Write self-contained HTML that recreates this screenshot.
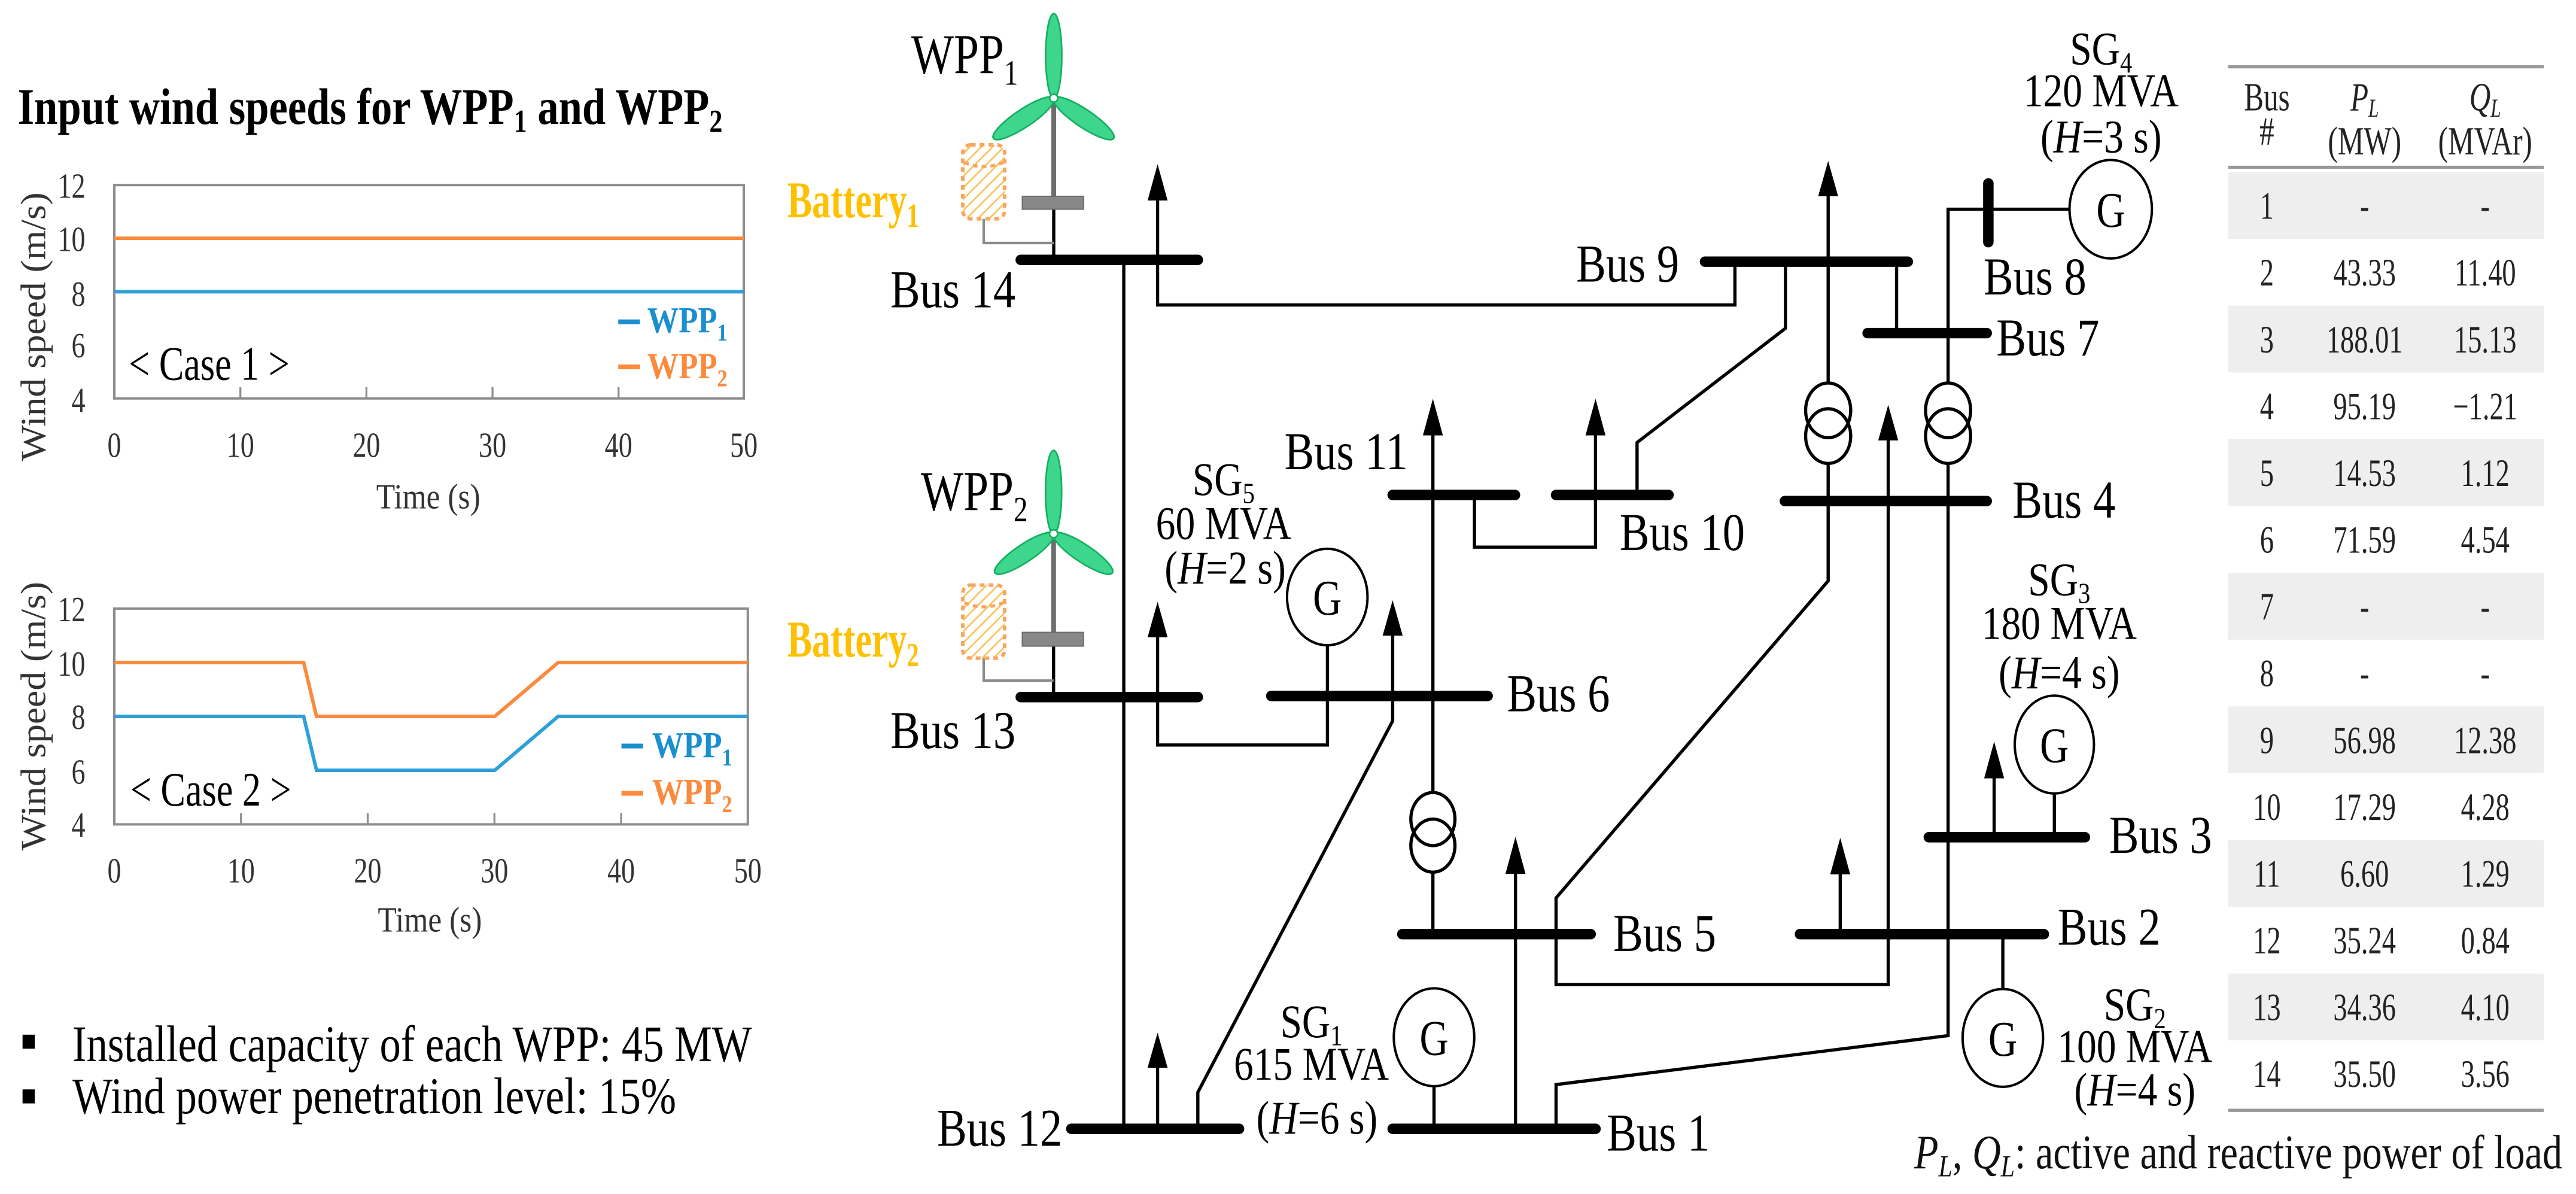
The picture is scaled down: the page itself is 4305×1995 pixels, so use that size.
<!DOCTYPE html>
<html><head><meta charset="utf-8"><style>
html,body{margin:0;padding:0;background:#fff;}
svg{display:block;}
text{font-family:"Liberation Serif",serif;}
</style></head><body>
<svg width="4305" height="1995" viewBox="0 0 1600 742" preserveAspectRatio="none" xmlns="http://www.w3.org/2000/svg">
<defs>
<pattern id="hatch" width="5" height="5" patternUnits="userSpaceOnUse" patternTransform="rotate(45)">
<rect width="5" height="5" fill="#fff"/><line x1="0" y1="0" x2="0" y2="5" stroke="#f9c25a" stroke-width="2"/>
</pattern>
</defs>
<rect width="1600" height="742" fill="#fff"/>

<!-- LEFT PANEL -->
<text transform="translate(11,77) scale(0.82,1)" font-size="32" font-weight="bold">Input wind speeds for WPP<tspan font-size="20" dy="5">1</tspan><tspan dy="-5"> and WPP</tspan><tspan font-size="20" dy="5">2</tspan></text>

<!-- chart 1 -->
<rect x="71" y="115" width="391" height="132.6" fill="none" stroke="#8c8c8c" stroke-width="1.5"/>
<g stroke="#8c8c8c" stroke-width="1.2">
<line x1="149.3" y1="240.6" x2="149.3" y2="247.6"/><line x1="227.6" y1="240.6" x2="227.6" y2="247.6"/>
<line x1="305.9" y1="240.6" x2="305.9" y2="247.6"/><line x1="384.2" y1="240.6" x2="384.2" y2="247.6"/>
</g>
<g font-size="22" fill="#333" text-anchor="end">
<text transform="translate(53,123) scale(0.78,1)">12</text>
<text transform="translate(53,156) scale(0.78,1)">10</text>
<text transform="translate(53,190) scale(0.78,1)">8</text>
<text transform="translate(53,222) scale(0.78,1)">6</text>
<text transform="translate(53,256) scale(0.78,1)">4</text>
</g>
<g font-size="22" fill="#333" text-anchor="middle">
<text transform="translate(71,284) scale(0.78,1)">0</text>
<text transform="translate(149.3,284) scale(0.78,1)">10</text>
<text transform="translate(227.6,284) scale(0.78,1)">20</text>
<text transform="translate(305.9,284) scale(0.78,1)">30</text>
<text transform="translate(384.2,284) scale(0.78,1)">40</text>
<text transform="translate(462,284) scale(0.78,1)">50</text>
<text transform="translate(266,316) scale(0.87,1)">Time (s)</text>
</g>
<text transform="translate(28,203) rotate(-90)" font-size="22" fill="#333" text-anchor="middle" textLength="167" lengthAdjust="spacingAndGlyphs">Wind speed (m/s)</text>
<line x1="71" y1="148.1" x2="462" y2="148.1" stroke="#fb8a3c" stroke-width="2.2"/>
<line x1="71" y1="181.3" x2="462" y2="181.3" stroke="#2f9fd8" stroke-width="2.2"/>
<text transform="translate(80,236) scale(0.77,1)" font-size="30">&lt; Case 1 &gt;</text>
<line x1="384" y1="200" x2="397.5" y2="200" stroke="#1a8fd0" stroke-width="3"/>
<text transform="translate(402,206.6) scale(0.85,1)" font-size="23" font-weight="bold" fill="#1a8fd0">WPP<tspan font-size="15" dy="5">1</tspan></text>
<line x1="384" y1="228" x2="397.5" y2="228" stroke="#fb8a3c" stroke-width="3"/>
<text transform="translate(402,235) scale(0.85,1)" font-size="23" font-weight="bold" fill="#fb8a3c">WPP<tspan font-size="15" dy="5">2</tspan></text>

<!-- chart 2 -->
<rect x="71" y="378.2" width="393.5" height="134.1" fill="none" stroke="#8c8c8c" stroke-width="1.5"/>
<g stroke="#8c8c8c" stroke-width="1.2">
<line x1="149.7" y1="505.3" x2="149.7" y2="512.3"/><line x1="228.4" y1="505.3" x2="228.4" y2="512.3"/>
<line x1="307.1" y1="505.3" x2="307.1" y2="512.3"/><line x1="385.8" y1="505.3" x2="385.8" y2="512.3"/>
</g>
<g font-size="22" fill="#333" text-anchor="end">
<text transform="translate(53,386) scale(0.78,1)">12</text>
<text transform="translate(53,420) scale(0.78,1)">10</text>
<text transform="translate(53,453) scale(0.78,1)">8</text>
<text transform="translate(53,487) scale(0.78,1)">6</text>
<text transform="translate(53,520) scale(0.78,1)">4</text>
</g>
<g font-size="22" fill="#333" text-anchor="middle">
<text transform="translate(71,548.4) scale(0.78,1)">0</text>
<text transform="translate(149.7,548.4) scale(0.78,1)">10</text>
<text transform="translate(228.4,548.4) scale(0.78,1)">20</text>
<text transform="translate(307.1,548.4) scale(0.78,1)">30</text>
<text transform="translate(385.8,548.4) scale(0.78,1)">40</text>
<text transform="translate(464.5,548.4) scale(0.78,1)">50</text>
<text transform="translate(267,579) scale(0.87,1)">Time (s)</text>
</g>
<text transform="translate(28,445) rotate(-90)" font-size="22" fill="#333" text-anchor="middle" textLength="167" lengthAdjust="spacingAndGlyphs">Wind speed (m/s)</text>
<polyline points="71,411.7 188.6,411.7 196.6,445.2 307.3,445.2 346.7,411.7 464.5,411.7" fill="none" stroke="#fb8a3c" stroke-width="2.2"/>
<polyline points="71,445.2 188.6,445.2 196.6,478.7 307.3,478.7 346.7,445.2 464.5,445.2" fill="none" stroke="#2f9fd8" stroke-width="2.2"/>
<text transform="translate(81,500.6) scale(0.77,1)" font-size="30">&lt; Case 2 &gt;</text>
<line x1="386" y1="463.6" x2="399.5" y2="463.6" stroke="#1a8fd0" stroke-width="3"/>
<text transform="translate(405,470.7) scale(0.85,1)" font-size="23" font-weight="bold" fill="#1a8fd0">WPP<tspan font-size="15" dy="5">1</tspan></text>
<line x1="386" y1="493" x2="399.5" y2="493" stroke="#fb8a3c" stroke-width="3"/>
<text transform="translate(405,499.7) scale(0.85,1)" font-size="23" font-weight="bold" fill="#fb8a3c">WPP<tspan font-size="15" dy="5">2</tspan></text>

<!-- bullets -->
<rect x="14" y="643" width="7.6" height="8.7" fill="#000"/>
<rect x="14" y="677" width="7.6" height="8.7" fill="#000"/>
<text x="45" y="659.4" font-size="32" textLength="422" lengthAdjust="spacingAndGlyphs">Installed capacity of each WPP: 45 MW</text>
<text x="45" y="691.8" font-size="32" textLength="375" lengthAdjust="spacingAndGlyphs">Wind power penetration level: 15%</text>

<!-- DIAGRAM lines -->
<g stroke="#000" stroke-width="2" fill="none">
<line x1="698" y1="161.5" x2="698" y2="701.5"/>
<polyline points="719,124 719,189.5 1077.6,189.5 1077.6,162.6"/>
<polyline points="1109,162.6 1109,204 1016.8,275 1016.8,307.6"/>
<line x1="1135.5" y1="122" x2="1135.5" y2="238"/>
<polyline points="1135.5,288 1135.5,361 966.5,558 966.5,611.8 1172.8,611.8 1172.8,272"/>
<line x1="1178" y1="162.6" x2="1178" y2="207"/>
<polyline points="1285,130 1210,130 1210,238"/>
<polyline points="1210,288 1210,643.6 966.5,674 966.5,701.5"/>
<line x1="1276" y1="493" x2="1276" y2="520"/>
<line x1="1238.6" y1="483" x2="1238.6" y2="520"/>
<line x1="1143" y1="543" x2="1143" y2="580.5"/>
<line x1="1244" y1="580.5" x2="1244" y2="614.6"/>
<line x1="890" y1="270" x2="890" y2="492.6"/>
<line x1="890" y1="542" x2="890" y2="580.5"/>
<polyline points="915.8,307.6 915.8,340 991,340 991,270"/>
<polyline points="719,395.5 719,463 824.5,463 824.5,401"/>
<polyline points="865,395 865,448 744,678.8 744,701.5"/>
<line x1="941.3" y1="543" x2="941.3" y2="701.5"/>
<line x1="890.7" y1="675" x2="890.7" y2="701.5"/>
<line x1="719" y1="663" x2="719" y2="701.5"/>
<!-- transformers -->
<ellipse cx="890" cy="509" rx="13.7" ry="16.5"/><ellipse cx="890" cy="525.5" rx="13.7" ry="16.5"/>
<ellipse cx="1135.5" cy="255" rx="14" ry="17"/><ellipse cx="1135.5" cy="271" rx="14" ry="17"/>
<ellipse cx="1210" cy="255" rx="14" ry="17"/><ellipse cx="1210" cy="271" rx="14" ry="17"/>
</g>
<!-- generators -->
<g stroke="#000" stroke-width="1.5" fill="#fff">
<ellipse cx="824.4" cy="371" rx="25" ry="30"/>
<ellipse cx="890.7" cy="644.6" rx="25" ry="30.4"/>
<ellipse cx="1311" cy="130" rx="25.6" ry="30.6"/>
<ellipse cx="1276" cy="462.7" rx="24.6" ry="30.4"/>
<ellipse cx="1244" cy="645" rx="25" ry="30.4"/>
</g>
<g font-size="31" text-anchor="middle" fill="#000">
<text transform="translate(824.4,382) scale(0.8,1)">G</text>
<text transform="translate(890.7,655.6) scale(0.8,1)">G</text>
<text transform="translate(1311,141) scale(0.8,1)">G</text>
<text transform="translate(1276,473.7) scale(0.8,1)">G</text>
<text transform="translate(1244,656) scale(0.8,1)">G</text>
</g>
<!-- arrowheads -->
<g fill="#000">
<polygon points="719,102 712.8,124.6 725.2,124.6"/>
<polygon points="719,374 712.8,396 725.2,396"/>
<polygon points="865,373 858.8,395 871.2,395"/>
<polygon points="890,247.8 883.8,270.6 896.2,270.6"/>
<polygon points="991,247.8 984.8,270.6 997.2,270.6"/>
<polygon points="1135.5,100 1129.3,122 1141.7,122"/>
<polygon points="1172.8,251.6 1166.6,273.7 1179,273.7"/>
<polygon points="941.3,520 935.1,543 947.5,543"/>
<polygon points="719,641.8 712.8,663.5 725.2,663.5"/>
<polygon points="1238.6,460.8 1232.4,483.7 1244.8,483.7"/>
<polygon points="1143,520.7 1136.8,543.4 1149.2,543.4"/>
</g>
<!-- buses -->
<g stroke="#000" stroke-width="6.5" stroke-linecap="round">
<line x1="634" y1="161.5" x2="744" y2="161.5"/>
<line x1="634" y1="433.2" x2="744" y2="433.2"/>
<line x1="789.6" y1="432.5" x2="924" y2="432.5"/>
<line x1="865" y1="307.6" x2="941" y2="307.6"/>
<line x1="966.5" y1="307.6" x2="1036.4" y2="307.6"/>
<line x1="1059" y1="162.6" x2="1185" y2="162.6"/>
<line x1="1160" y1="207" x2="1234" y2="207"/>
<line x1="1235" y1="114" x2="1235" y2="150.5"/>
<line x1="1108.6" y1="311.4" x2="1234" y2="311.4"/>
<line x1="1198" y1="520.3" x2="1295" y2="520.3"/>
<line x1="1118" y1="580.5" x2="1269.5" y2="580.5"/>
<line x1="871" y1="580.5" x2="988" y2="580.5"/>
<line x1="665.4" y1="701.5" x2="769.6" y2="701.5"/>
<line x1="865" y1="701.5" x2="991" y2="701.5"/>
</g>
<!-- turbines -->
<g stroke="#6e6e6e" fill="none" stroke-width="3">
<line x1="654.5" y1="61" x2="654.5" y2="126"/>
<line x1="654.4" y1="331.7" x2="654.4" y2="397"/>
</g>
<g stroke="#000" stroke-width="2">
<line x1="654.5" y1="126" x2="654.5" y2="161.5"/>
<line x1="654.4" y1="397" x2="654.4" y2="433.2"/>
</g>
<g stroke="#8a8a8a" fill="none" stroke-width="1.6">
<polyline points="611,136 611,151 654.5,151"/>
<polyline points="611,409 611,423 654.4,423"/>
</g>
<rect x="635" y="122" width="38" height="8" fill="#888" stroke="#6e6e6e" stroke-width="0.8"/>
<rect x="635" y="393" width="38" height="8.5" fill="#888" stroke="#6e6e6e" stroke-width="0.8"/>
<rect x="598" y="90" width="26" height="46" rx="5" fill="url(#hatch)" stroke="#f9a65e" stroke-width="2.2" stroke-dasharray="3,2.5"/>
<path d="M599 101 Q611 106 623 101" fill="none" stroke="#f9a65e" stroke-width="2" stroke-dasharray="3,2.5"/>
<rect x="598" y="363.6" width="26" height="45.4" rx="5" fill="url(#hatch)" stroke="#f9a65e" stroke-width="2.2" stroke-dasharray="3,2.5"/>
<path d="M599 374.6 Q611 379.6 623 374.6" fill="none" stroke="#f9a65e" stroke-width="2" stroke-dasharray="3,2.5"/>
<g fill="#3dd68c" stroke="#12b060" stroke-width="1">
<ellipse cx="0" cy="0" rx="26.3" ry="5" transform="translate(654.5,34.75) rotate(-90)"/>
<ellipse cx="0" cy="0" rx="22.5" ry="5.5" transform="translate(635.75,73.5) rotate(146.3)"/>
<ellipse cx="0" cy="0" rx="22.4" ry="5.5" transform="translate(673.1,73.5) rotate(33.9)"/>
<ellipse cx="0" cy="0" rx="25.9" ry="5" transform="translate(654.4,305.8) rotate(-90)"/>
<ellipse cx="0" cy="0" rx="21.9" ry="5.5" transform="translate(636.2,343.85) rotate(146.3)"/>
<ellipse cx="0" cy="0" rx="21.9" ry="5.5" transform="translate(672.7,343.85) rotate(33.7)"/>
</g>
<circle cx="654.5" cy="61" r="2.5" fill="#fff" stroke="#12b060"/>
<circle cx="654.4" cy="331.7" r="2.5" fill="#fff" stroke="#12b060"/>
<text transform="translate(566,45.6) scale(0.8,1)" font-size="35">WPP<tspan font-size="22" dy="7">1</tspan></text>
<text transform="translate(572,317) scale(0.8,1)" font-size="35">WPP<tspan font-size="22" dy="7">2</tspan></text>
<text transform="translate(489,135) scale(0.72,1)" font-size="32" font-weight="bold" fill="#ffc000">Battery<tspan font-size="21" dy="6">1</tspan></text>
<text transform="translate(489,408) scale(0.72,1)" font-size="32" font-weight="bold" fill="#ffc000">Battery<tspan font-size="21" dy="6">2</tspan></text>

<!-- bus labels -->
<g font-size="33" fill="#000">
<text transform="translate(553,191) scale(0.84,1)">Bus 14</text>
<text transform="translate(553,465) scale(0.84,1)">Bus 13</text>
<text transform="translate(582,712) scale(0.84,1)">Bus 12</text>
<text transform="translate(998,715) scale(0.84,1)">Bus 1</text>
<text transform="translate(1002,591) scale(0.84,1)">Bus 5</text>
<text transform="translate(936,442) scale(0.84,1)">Bus 6</text>
<text transform="translate(874.5,291.5) scale(0.84,1)" text-anchor="end">Bus 11</text>
<text transform="translate(1006,341.8) scale(0.84,1)">Bus 10</text>
<text transform="translate(979,175) scale(0.84,1)">Bus 9</text>
<text transform="translate(1240,221) scale(0.84,1)">Bus 7</text>
<text transform="translate(1232,183) scale(0.84,1)">Bus 8</text>
<text transform="translate(1250,321.8) scale(0.84,1)">Bus 4</text>
<text transform="translate(1310,530) scale(0.84,1)">Bus 3</text>
<text transform="translate(1278,587) scale(0.84,1)">Bus 2</text>
</g>
<!-- SG labels -->
<g font-size="29" text-anchor="middle" fill="#000">
<text transform="translate(760,307.6) scale(0.84,1)">SG<tspan font-size="18" dy="5">5</tspan></text>
<text transform="translate(760,335) scale(0.84,1)">60 MVA</text>
<text transform="translate(761,362.6) scale(0.84,1)">(<tspan font-style="italic">H</tspan>=2 s)</text>
<text transform="translate(814.5,644.6) scale(0.84,1)">SG<tspan font-size="18" dy="5">1</tspan></text>
<text transform="translate(814.5,671) scale(0.84,1)">615 MVA</text>
<text transform="translate(818,704.5) scale(0.84,1)">(<tspan font-style="italic">H</tspan>=6 s)</text>
<text transform="translate(1305,40) scale(0.84,1)">SG<tspan font-size="18" dy="5">4</tspan></text>
<text transform="translate(1305,66) scale(0.84,1)">120 MVA</text>
<text transform="translate(1305,94.7) scale(0.84,1)">(<tspan font-style="italic">H</tspan>=3 s)</text>
<text transform="translate(1279,369.8) scale(0.84,1)">SG<tspan font-size="18" dy="5">3</tspan></text>
<text transform="translate(1279,397) scale(0.84,1)">180 MVA</text>
<text transform="translate(1279,427.7) scale(0.84,1)">(<tspan font-style="italic">H</tspan>=4 s)</text>
<text transform="translate(1326,634) scale(0.84,1)">SG<tspan font-size="18" dy="5">2</tspan></text>
<text transform="translate(1326,660) scale(0.84,1)">100 MVA</text>
<text transform="translate(1326,687) scale(0.84,1)">(<tspan font-style="italic">H</tspan>=4 s)</text>
</g>

<!-- TABLE -->
<g fill="#eeeeee">
<rect x="1384" y="107" width="196" height="41.5"/>
<rect x="1384" y="190" width="196" height="41.5"/>
<rect x="1384" y="273" width="196" height="41.5"/>
<rect x="1384" y="356" width="196" height="41.5"/>
<rect x="1384" y="439" width="196" height="41.5"/>
<rect x="1384" y="522" width="196" height="41.5"/>
<rect x="1384" y="605" width="196" height="41.5"/>
</g>
<line x1="1384" y1="41.5" x2="1580" y2="41.5" stroke="#999" stroke-width="2"/>
<line x1="1384" y1="104" x2="1580" y2="104" stroke="#999" stroke-width="2"/>
<line x1="1384" y1="690" x2="1580" y2="690" stroke="#999" stroke-width="2"/>
<g font-size="25" text-anchor="middle" fill="#222">
<text transform="translate(1408,68.6) scale(0.73,1)">Bus</text>
<text transform="translate(1408,90) scale(0.73,1)">#</text>
<text transform="translate(1468.7,68.6) scale(0.73,1)" font-style="italic">P<tspan font-size="16" dy="4">L</tspan></text>
<text transform="translate(1468.7,96) scale(0.73,1)">(MW)</text>
<text transform="translate(1543.6,68.6) scale(0.73,1)" font-style="italic">Q<tspan font-size="16" dy="4">L</tspan></text>
<text transform="translate(1543.6,96) scale(0.73,1)">(MVAr)</text>
</g>
<g font-size="24" text-anchor="middle" fill="#222">
<text transform="translate(1408,136) scale(0.72,1)">1</text><text transform="translate(1468.7,136) scale(0.72,1)">-</text><text transform="translate(1543.6,136) scale(0.72,1)">-</text>
<text transform="translate(1408,177.5) scale(0.72,1)">2</text><text transform="translate(1468.7,177.5) scale(0.72,1)">43.33</text><text transform="translate(1543.6,177.5) scale(0.72,1)">11.40</text>
<text transform="translate(1408,219) scale(0.72,1)">3</text><text transform="translate(1468.7,219) scale(0.72,1)">188.01</text><text transform="translate(1543.6,219) scale(0.72,1)">15.13</text>
<text transform="translate(1408,260.5) scale(0.72,1)">4</text><text transform="translate(1468.7,260.5) scale(0.72,1)">95.19</text><text transform="translate(1543.6,260.5) scale(0.72,1)">−1.21</text>
<text transform="translate(1408,302) scale(0.72,1)">5</text><text transform="translate(1468.7,302) scale(0.72,1)">14.53</text><text transform="translate(1543.6,302) scale(0.72,1)">1.12</text>
<text transform="translate(1408,343.5) scale(0.72,1)">6</text><text transform="translate(1468.7,343.5) scale(0.72,1)">71.59</text><text transform="translate(1543.6,343.5) scale(0.72,1)">4.54</text>
<text transform="translate(1408,385) scale(0.72,1)">7</text><text transform="translate(1468.7,385) scale(0.72,1)">-</text><text transform="translate(1543.6,385) scale(0.72,1)">-</text>
<text transform="translate(1408,426.5) scale(0.72,1)">8</text><text transform="translate(1468.7,426.5) scale(0.72,1)">-</text><text transform="translate(1543.6,426.5) scale(0.72,1)">-</text>
<text transform="translate(1408,468) scale(0.72,1)">9</text><text transform="translate(1468.7,468) scale(0.72,1)">56.98</text><text transform="translate(1543.6,468) scale(0.72,1)">12.38</text>
<text transform="translate(1408,509.5) scale(0.72,1)">10</text><text transform="translate(1468.7,509.5) scale(0.72,1)">17.29</text><text transform="translate(1543.6,509.5) scale(0.72,1)">4.28</text>
<text transform="translate(1408,551) scale(0.72,1)">11</text><text transform="translate(1468.7,551) scale(0.72,1)">6.60</text><text transform="translate(1543.6,551) scale(0.72,1)">1.29</text>
<text transform="translate(1408,592.5) scale(0.72,1)">12</text><text transform="translate(1468.7,592.5) scale(0.72,1)">35.24</text><text transform="translate(1543.6,592.5) scale(0.72,1)">0.84</text>
<text transform="translate(1408,634) scale(0.72,1)">13</text><text transform="translate(1468.7,634) scale(0.72,1)">34.36</text><text transform="translate(1543.6,634) scale(0.72,1)">4.10</text>
<text transform="translate(1408,675.5) scale(0.72,1)">14</text><text transform="translate(1468.7,675.5) scale(0.72,1)">35.50</text><text transform="translate(1543.6,675.5) scale(0.72,1)">3.56</text>
</g>
<text transform="translate(1189,726) scale(0.82,1)" font-size="30" fill="#111"><tspan font-style="italic">P</tspan><tspan font-size="19" dy="5" font-style="italic">L</tspan><tspan dy="-5">, </tspan><tspan font-style="italic">Q</tspan><tspan font-size="19" dy="5" font-style="italic">L</tspan><tspan dy="-5">: active and reactive power of load</tspan></text>
</svg>
</body></html>
